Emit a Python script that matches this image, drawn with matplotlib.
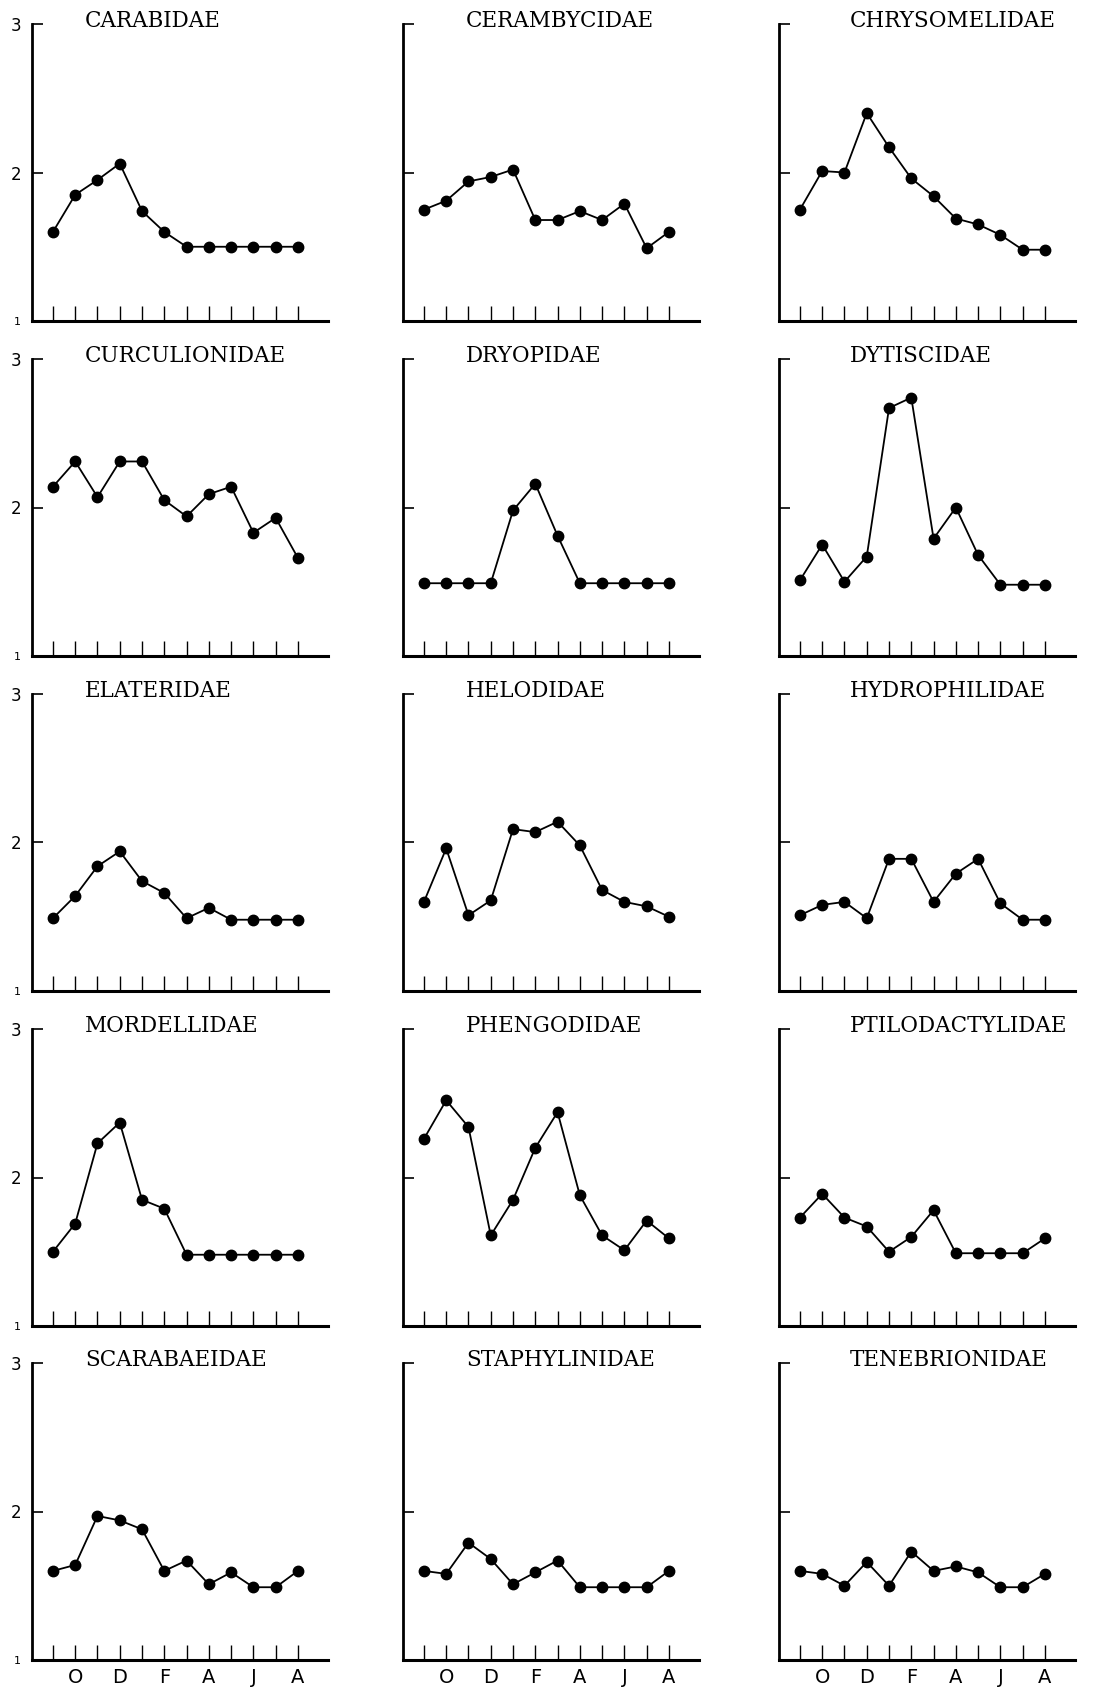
import matplotlib
matplotlib.use("Agg")
import matplotlib.pyplot as plt

# ---------------- data ----------------
families = [
    "CARABIDAE", "CERAMBYCIDAE", "CHRYSOMELIDAE",
    "CURCULIONIDAE", "DRYOPIDAE", "DYTISCIDAE",
    "ELATERIDAE", "HELODIDAE", "HYDROPHILIDAE",
    "MORDELLIDAE", "PHENGODIDAE", "PTILODACTYLIDAE",
    "SCARABAEIDAE", "STAPHYLINIDAE", "TENEBRIONIDAE",
]

carabidae = [1.60, 1.85, 1.95, 2.06, 1.74, 1.60, 1.50, 1.50, 1.50, 1.50, 1.50, 1.50]
cerambycidae = [1.75, 1.81, 1.94, 1.97, 2.02, 1.68, 1.68, 1.74, 1.68, 1.79, 1.49, 1.60]
chrysomelidae = [1.75, 2.01, 2.00, 2.40, 2.17, 1.96, 1.84, 1.69, 1.65, 1.58, 1.48, 1.48]
curculionidae = [2.14, 2.31, 2.07, 2.31, 2.31, 2.05, 1.94, 2.09, 2.14, 1.83, 1.93, 1.66]
dryopidae = [1.49, 1.49, 1.49, 1.49, 1.98, 2.16, 1.81, 1.49, 1.49, 1.49, 1.49, 1.49]
dytiscidae = [1.51, 1.75, 1.50, 1.67, 2.67, 2.74, 1.79, 2.00, 1.68, 1.48, 1.48, 1.48]
elateridae = [1.49, 1.64, 1.84, 1.94, 1.74, 1.66, 1.49, 1.56, 1.48, 1.48, 1.48, 1.48]
helodidae = [1.60, 1.96, 1.51, 1.61, 2.09, 2.07, 2.14, 1.98, 1.68, 1.60, 1.57, 1.50]
hydrophilidae = [1.51, 1.58, 1.60, 1.49, 1.89, 1.89, 1.60, 1.79, 1.89, 1.59, 1.48, 1.48]
mordellidae = [1.50, 1.69, 2.23, 2.37, 1.85, 1.79, 1.48, 1.48, 1.48, 1.48, 1.48, 1.48]
phengodidae = [2.26, 2.52, 2.34, 1.61, 1.85, 2.20, 2.44, 1.88, 1.61, 1.51, 1.71, 1.59]
ptilodactylidae = [1.73, 1.89, 1.73, 1.67, 1.50, 1.60, 1.78, 1.49, 1.49, 1.49, 1.49, 1.59]
scarabaeidae = [1.60, 1.64, 1.97, 1.94, 1.88, 1.60, 1.67, 1.51, 1.59, 1.49, 1.49, 1.60]
staphylinidae = [1.60, 1.58, 1.79, 1.68, 1.51, 1.59, 1.67, 1.49, 1.49, 1.49, 1.49, 1.60]
tenebrionidae = [1.60, 1.58, 1.50, 1.66, 1.50, 1.73, 1.60, 1.63, 1.59, 1.49, 1.49, 1.58]

series = [carabidae, cerambycidae, chrysomelidae,
          curculionidae, dryopidae, dytiscidae,
          elateridae, helodidae, hydrophilidae,
          mordellidae, phengodidae, ptilodactylidae,
          scarabaeidae, staphylinidae, tenebrionidae]

months = list(range(1, 13))
month_labels = ["", "O", "", "D", "", "F", "", "A", "", "J", "", "A"]
y_ticks = [1, 2, 3]
y_tick_labels = ["1", "2", "3"]

# ---------------- layout (pixels) ----------------
W, H = 1094, 1691
fig = plt.figure(figsize=(W / 100, H / 100), dpi=100)

col_left = [32, 403, 779]
col_width = 296
row_top = [24, 359, 694, 1029, 1363]
row_height = 297
title_x = [85, 466, 850]

for i, (name, vals) in enumerate(zip(families, series)):
    r, c = divmod(i, 3)
    left = col_left[c] / W
    bottom = 1 - (row_top[r] + row_height) / H
    ax = fig.add_axes([left, bottom, col_width / W, row_height / H])
    ax.plot(months, vals, color="black", lw=1.3, marker="o", ms=7.5,
            clip_on=False, zorder=3)
    ax.set_xlim(0.06, 13.35)
    ax.set_ylim(1, 3)
    for s in ("top", "right"):
        ax.spines[s].set_visible(False)
    ax.spines["left"].set_linewidth(2.0)
    ax.spines["bottom"].set_linewidth(2.2)
    ax.spines["left"].set_bounds(1, 3)
    ax.set_xticks(months)
    ax.tick_params(axis="x", direction="in", length=11, width=1.0, pad=6)
    ax.set_yticks([2, 3])
    ax.tick_params(axis="y", direction="in", length=8, width=1.2, pad=8)
    if r == 4:
        ax.set_xticklabels(month_labels, fontsize=14, family="DejaVu Sans")
    else:
        ax.set_xticklabels([])
    if c == 0:
        ax.set_yticks(y_ticks)
        ax.set_yticklabels(y_tick_labels, fontsize=12, family="DejaVu Sans")
        ax.get_yticklabels()[0].set_fontsize(8)
    else:
        ax.set_yticklabels([])
    fig.text(title_x[c] / W, 1 - (row_top[r] - 3) / H, name, ha="left",
             va="center", fontsize=15.5, family="DejaVu Serif")

fig.savefig("out.png", dpi=100, facecolor="white")
